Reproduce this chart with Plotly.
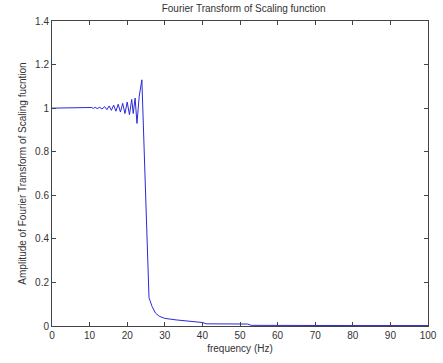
import plotly.graph_objects as go

freq = [0, 10, 10.5, 11, 11.5, 12, 12.7, 13.3, 14, 14.6, 15.2, 15.8, 16.4, 17, 17.6, 18.2,
        18.8, 19.4, 20.0, 20.6, 21.2, 21.6, 22.1, 22.6, 23.2, 23.9, 25.8, 26.6, 27.5, 28.5,
        30, 33, 36, 40, 41, 45, 52, 53, 60, 70, 80, 90, 100]
amp = [1.0, 1.0, 1.003, 0.999, 1.004, 0.998, 1.004, 0.996, 1.007, 0.993, 1.01, 0.99, 1.014, 0.986,
       1.018, 0.982, 1.022, 0.975, 1.028, 0.97, 1.04, 0.975, 1.046, 0.93, 1.055, 1.13, 0.13, 0.09,
       0.06, 0.045, 0.035, 0.028, 0.022, 0.016, 0.01, 0.01, 0.009, 0.003, 0.002, 0.002, 0.002, 0.002, 0.002]

xticks = list(range(0, 101, 10))
yticks = [0, 0.2, 0.4, 0.6, 0.8, 1, 1.2, 1.4]
ytext = ["0", "0.2", "0.4", "0.6", "0.8", "1", "1.2", "1.4"]

fig = go.Figure()
fig.add_trace(go.Scatter(x=freq, y=amp, mode="lines",
                         line=dict(color="#2a2ad8", width=1)))

axis_common = dict(showgrid=False, zeroline=False, showline=True, linecolor="#444",
                   linewidth=1, mirror="ticks", ticks="inside", ticklen=4,
                   tickcolor="#444", tickfont=dict(size=10, color="#333"),
                   ticklabeloverflow="allow")
fig.update_layout(
    width=443, height=363,
    margin=dict(l=52, r=6, t=21, b=37),
    paper_bgcolor="white", plot_bgcolor="white",
    font=dict(family="Liberation Sans, Arial, sans-serif", size=10, color="#333"),
    showlegend=False,
    title=dict(text="Fourier Transform of Scaling function", x=0.55, xanchor="center",
               y=0.985, yanchor="top", font=dict(size=10)),
    xaxis=dict(range=[0, 100], tickvals=xticks,
               title=dict(text="frequency (Hz)", standoff=4, font=dict(size=10)), **axis_common),
    yaxis=dict(range=[0, 1.4], tickvals=yticks, ticktext=ytext,
               title=dict(text="Amplitude of Fourier Transform of Scaling fucntion", standoff=6,
                          font=dict(size=10)), **axis_common),
)
fig.write_html("out.html")
